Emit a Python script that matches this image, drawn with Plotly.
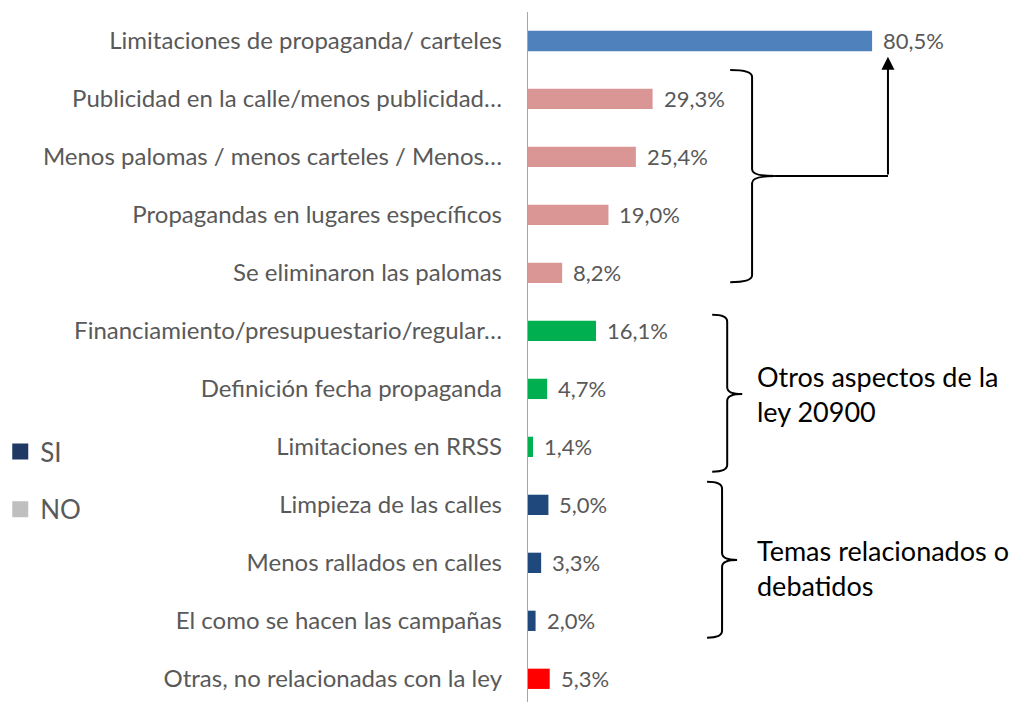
import plotly.graph_objects as go

# Data
categories = [
    "Limitaciones de propaganda/ carteles",
    "Publicidad en la calle/menos publicidad…",
    "Menos palomas / menos carteles / Menos…",
    "Propagandas en lugares específicos",
    "Se eliminaron las palomas",
    "Financiamiento/presupuestario/regular…",
    "Definición fecha propaganda",
    "Limitaciones en RRSS",
    "Limpieza de las calles",
    "Menos rallados en calles",
    "El como se hacen las campañas",
    "Otras, no relacionadas con la ley",
]
values = [80.5, 29.3, 25.4, 19.0, 8.2, 16.1, 4.7, 1.4, 5.0, 3.3, 2.0, 5.3]
bar_colors = ["#4F81BD", "#D99694", "#D99694", "#D99694", "#D99694",
              "#00B050", "#00B050", "#00B050",
              "#1F497D", "#1F497D", "#1F497D", "#FF0000"]
legend_names = ["SI", "NO"]
legend_colors = ["#1F3864", "#BFBFBF"]

FONT = "Lato, 'Noto Sans', sans-serif"
GRAY = "#595959"

rows = list(range(len(categories)))
labels = [f"{v:.1f}%".replace(".", ",") for v in values]

fig = go.Figure()
fig.add_trace(go.Bar(
    x=values, y=rows, orientation="h",
    marker=dict(color=bar_colors, line=dict(width=0)),
    width=0.35, showlegend=False, hoverinfo="skip",
))

# dummy legend entries
for name, col in zip(legend_names, legend_colors):
    fig.add_trace(go.Scatter(
        x=[None], y=[None], mode="markers", name=name, legendgroup=name,
        marker=dict(symbol="square", size=16, color=col),
    ))

# value labels
for r, v, t in zip(rows, values, labels):
    fig.add_annotation(x=v, y=r, text=t, showarrow=False, xanchor="left",
                       xshift=9, font=dict(family=FONT, size=22, color=GRAY))


def brace(xl, xs, xt, y0, ym, y1):
    # right-facing curly brace
    k = 0.12
    return (f"M {xl},{y0} Q {xs},{y0} {xs},{y0 + k} "
            f"L {xs},{ym - k} Q {xs},{ym} {xt},{ym} "
            f"Q {xs},{ym} {xs},{ym + k} "
            f"L {xs},{y1 - k} Q {xs},{y1} {xl},{y1}")


line_style = dict(color="black", width=2)
fig.add_shape(type="path", path=brace(47.4, 52.5, 57.8, 0.50, 2.33, 4.16),
              line=line_style, xref="x", yref="y")
fig.add_shape(type="path", path=brace(43.2, 46.7, 50.2, 4.72, 6.09, 7.43),
              line=line_style, xref="x", yref="y")
fig.add_shape(type="path", path=brace(42.0, 45.5, 49.0, 7.60, 8.95, 10.29),
              line=line_style, xref="x", yref="y")

# connector from first brace to the top bar
fig.add_shape(type="line", x0=57.8, y0=2.33, x1=84.2, y1=2.33,
              line=line_style, xref="x", yref="y")
fig.add_annotation(x=84.2, y=0.27, ax=84.2, ay=2.33, axref="x", ayref="y",
                   xref="x", yref="y", showarrow=True, arrowhead=2,
                   arrowsize=1.3, arrowwidth=2, arrowcolor="black", text="")

fig.add_annotation(x=53.2, y=6.09, text="Otros aspectos de la<br>ley 20900",
                   showarrow=False, xanchor="left", align="left",
                   font=dict(family=FONT, size=27, color="black"))
fig.add_annotation(x=53.2, y=9.09, text="Temas relacionados o<br>debatidos",
                   showarrow=False, xanchor="left", align="left",
                   font=dict(family=FONT, size=27, color="black"))

fig.update_layout(
    width=1017, height=702,
    margin=dict(l=527, r=0, t=12, b=0),
    plot_bgcolor="white", paper_bgcolor="white",
    font=dict(family=FONT, color=GRAY),
    legend=dict(x=-1.075, y=0.397, xanchor="left", yanchor="top",
                font=dict(size=26, color=GRAY), tracegroupgap=21,
                itemwidth=30),
)
fig.update_xaxes(range=[0, 114.3], visible=False, fixedrange=True)
fig.update_yaxes(
    range=[11.4, -0.5], tickvals=rows, ticktext=categories,
    showgrid=False, zeroline=False, showline=False, ticks="",
    ticklabelstandoff=24, tickfont=dict(size=24, color=GRAY),
)
# vertical axis line at zero
fig.add_shape(type="line", x0=0, x1=0, y0=0, y1=1, xref="x", yref="paper",
              line=dict(color="#A6A6A6", width=2), layer="above")

fig.write_html("out.html", config={"displayModeBar": False},
               post_script="document.body.style.margin='0';")
